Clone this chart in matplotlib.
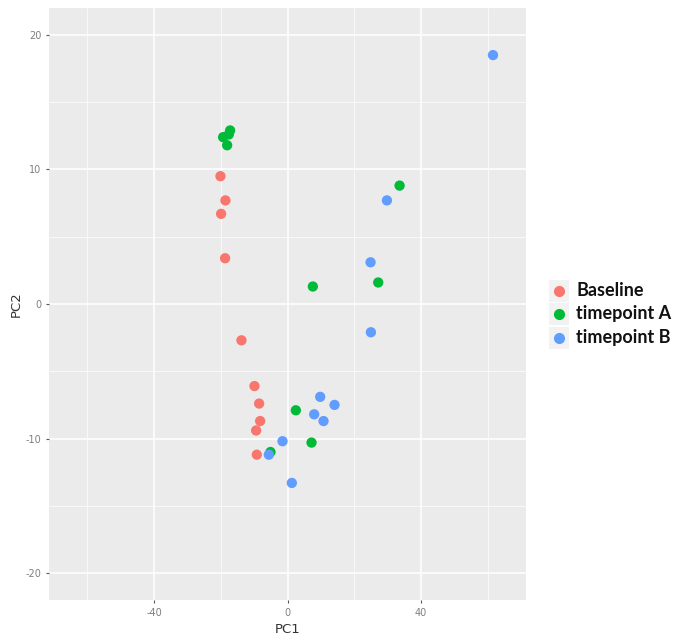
import matplotlib
matplotlib.use("Agg")
import matplotlib.pyplot as plt
from matplotlib.patches import Rectangle

plt.rcParams["axes.unicode_minus"] = False

groups = ["Baseline", "timepoint A", "timepoint B"]
colors = ["#F8766D", "#00BA38", "#619CFF"]

baseline_x = [-20.1, -18.6, -19.9, -18.7, -13.8, -9.9, -8.5, -8.2, -9.4, -9.2]
baseline_y = [9.5, 7.7, 6.7, 3.4, -2.7, -6.1, -7.4, -8.7, -9.4, -11.2]

tpA_x = [-19.3, -17.2, -18.1, -17.6, 33.6, 27.2, 7.6, 2.5, 7.2, -5.1]
tpA_y = [12.4, 12.9, 11.8, 12.6, 8.8, 1.6, 1.3, -7.9, -10.3, -11.0]

tpB_x = [61.6, 29.8, 24.9, 25.0, 9.8, 14.1, 8.0, 10.8, -1.5, -5.6, 1.3]
tpB_y = [18.5, 7.7, 3.1, -2.1, -6.9, -7.5, -8.2, -8.7, -10.2, -11.2, -13.3]

xticks = [-40, 0, 40]
yticks = [-20, -10, 0, 10, 20]

fig = plt.figure(figsize=(6.82, 6.42), dpi=100)
ax = fig.add_axes([49/682, 42/642, 477/682, 592/642])
ax.set_facecolor("#EBEBEB")

for xs, ys, c, g in zip([baseline_x, tpA_x, tpB_x], [baseline_y, tpA_y, tpB_y], colors, groups):
    ax.scatter(xs, ys, s=55, color=c, edgecolors="none", label=g, zorder=3)

ax.set_xlim(-71.5, 71.5)
ax.set_ylim(-22, 22)
ax.set_xticks(xticks)
ax.set_yticks(yticks)
ax.set_xticks([-60, -20, 20, 60], minor=True)
ax.set_yticks([-15, -5, 5, 15], minor=True)
ax.grid(True, which="major", color="white", linewidth=1.1, zorder=0)
ax.grid(True, which="minor", color="white", linewidth=0.5, zorder=0)
ax.set_axisbelow(True)
for sp in ax.spines.values():
    sp.set_visible(False)
ax.tick_params(which="major", length=2.5, width=0.8, color="#555555",
               labelsize=7, labelcolor="#7F7F7F", pad=3)
ax.tick_params(which="minor", length=0)
ax.set_xlabel("PC1", fontsize=9.5, color="#333333", labelpad=4)
ax.set_ylabel("PC2", fontsize=9.5, color="#333333", labelpad=2)

# legend
leg_y = [291, 314, 338]
for g, c, py in zip(groups, colors, leg_y):
    fy = 1 - py / 642
    fig.patches.append(Rectangle((549/682, fy - 11/642), 20/682, 22/642,
                                 transform=fig.transFigure, facecolor="#F2F2F2",
                                 edgecolor="none"))
    fig.add_artist(plt.Line2D([559/682], [fy], marker="o", markersize=7,
                              color=c, linestyle="none", transform=fig.transFigure))
    fig.text(576/682, fy, g, fontsize=13, fontweight="bold", family=["Lato", "DejaVu Sans"],
             va="center", ha="left", color="#111111")

fig.savefig("out.png", dpi=100, facecolor="white")
